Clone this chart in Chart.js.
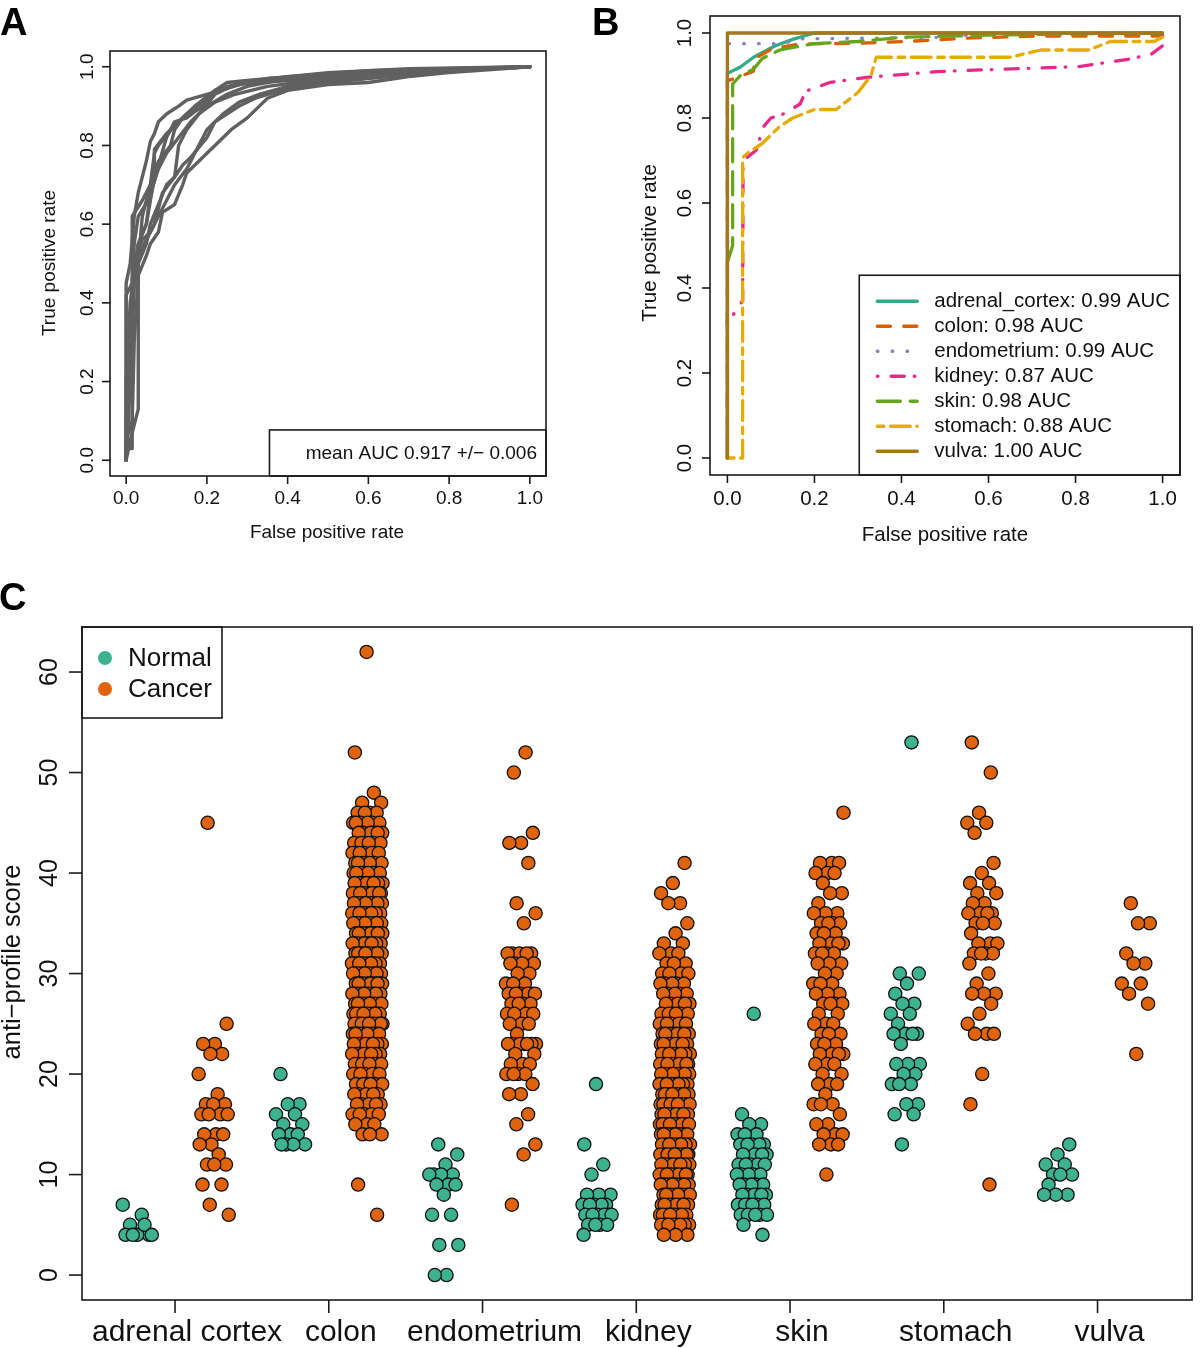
<!DOCTYPE html>
<html>
<head>
<meta charset="utf-8">
<script src="https://cdn.jsdelivr.net/npm/chart.js@4.4.1/dist/chart.umd.min.js"></script>
<style>
  html, body { margin: 0; padding: 0; background: #fff; }
  #wrap { position: relative; width: 1200px; height: 1348px; overflow: hidden; }
  canvas { position: absolute; }
  .tag { position: absolute; font: bold 38px "Liberation Sans", Arial, sans-serif; line-height: 38px; color: #000; }
</style>
</head>
<body>
<div id="wrap">
  <canvas id="rocA" width="600" height="560" style="left:0;top:0"></canvas>
  <canvas id="rocB" width="620" height="560" style="left:580px;top:0"></canvas>
  <canvas id="strip" width="1200" height="788" style="left:0;top:560px"></canvas>
  <div class="tag" style="left:0;top:3px">A</div>
  <div class="tag" style="left:592px;top:3px">B</div>
  <div class="tag" style="left:-1px;top:578px">C</div>
</div>
<script>
// ---------- shared ticks
var rateTicks = [0, 0.2, 0.4, 0.6, 0.8, 1.0];
var rateTickLabels = ['0.0', '0.2', '0.4', '0.6', '0.8', '1.0'];

// ---------- panel A: cross-validation ROC curves, [fpr, tpr]
var fold1 = [[0,0],[0,0.45],[0.01,0.5],[0.02,0.62],[0.03,0.68],[0.04,0.72],[0.05,0.76],[0.06,0.81],[0.07,0.83],[0.08,0.86],[0.1,0.88],[0.13,0.9],[0.15,0.915],[0.2,0.93],[0.25,0.945],[0.3,0.96],[0.4,0.975],[0.5,0.985],[0.7,0.995],[1,1]];
var fold2 = [[0,0],[0,0.42],[0.015,0.45],[0.02,0.55],[0.03,0.62],[0.06,0.67],[0.08,0.75],[0.1,0.82],[0.12,0.86],[0.15,0.87],[0.2,0.91],[0.22,0.94],[0.25,0.96],[0.3,0.965],[0.4,0.975],[0.6,0.99],[1,1]];
var fold3 = [[0,0],[0,0.05],[0.015,0.1],[0.02,0.3],[0.03,0.47],[0.05,0.52],[0.06,0.55],[0.08,0.58],[0.09,0.63],[0.12,0.65],[0.14,0.7],[0.15,0.73],[0.18,0.76],[0.2,0.78],[0.22,0.8],[0.26,0.84],[0.3,0.87],[0.33,0.9],[0.35,0.92],[0.4,0.94],[0.5,0.955],[0.6,0.96],[0.7,0.975],[0.8,0.985],[1,1]];
var fold4 = [[0,0],[0.01,0.05],[0.03,0.13],[0.03,0.5],[0.05,0.55],[0.06,0.6],[0.08,0.65],[0.1,0.7],[0.12,0.72],[0.14,0.75],[0.16,0.77],[0.2,0.82],[0.22,0.86],[0.28,0.9],[0.32,0.92],[0.4,0.945],[0.5,0.96],[0.6,0.97],[0.8,0.99],[1,1]];
var fold5 = [[0,0],[0,0.03],[0.015,0.03],[0.015,0.62],[0.04,0.66],[0.06,0.7],[0.07,0.78],[0.08,0.8],[0.12,0.85],[0.15,0.88],[0.2,0.9],[0.25,0.93],[0.3,0.95],[0.4,0.97],[0.6,0.985],[1,1]];
var fold6 = [[0,0],[0.005,0.1],[0.01,0.35],[0.02,0.48],[0.03,0.55],[0.05,0.6],[0.07,0.72],[0.07,0.79],[0.1,0.83],[0.12,0.85],[0.15,0.88],[0.2,0.92],[0.25,0.95],[0.35,0.97],[0.5,0.98],[0.7,0.99],[1,1]];
var fold7 = [[0,0],[0.01,0.2],[0.02,0.45],[0.03,0.52],[0.05,0.56],[0.07,0.6],[0.09,0.68],[0.12,0.72],[0.13,0.8],[0.15,0.84],[0.18,0.88],[0.22,0.91],[0.27,0.93],[0.35,0.95],[0.5,0.97],[0.7,0.985],[1,1]];
var fold8 = [[0,0],[0,0.2],[0.01,0.4],[0.03,0.55],[0.05,0.6],[0.06,0.68],[0.08,0.74],[0.1,0.78],[0.13,0.82],[0.16,0.86],[0.19,0.89],[0.22,0.93],[0.27,0.955],[0.4,0.965],[0.55,0.975],[0.8,0.99],[1,1]];
var fold9 = [[0,0],[0.005,0.15],[0.02,0.5],[0.04,0.56],[0.06,0.58],[0.08,0.62],[0.1,0.66],[0.12,0.7],[0.15,0.74],[0.17,0.78],[0.2,0.84],[0.24,0.88],[0.28,0.91],[0.33,0.93],[0.4,0.95],[0.55,0.97],[0.7,0.985],[1,1]];
var fold10 = [[0,0],[0,0.1],[0.02,0.45],[0.03,0.5],[0.04,0.62],[0.06,0.7],[0.08,0.76],[0.11,0.8],[0.12,0.84],[0.14,0.87],[0.17,0.9],[0.22,0.94],[0.3,0.96],[0.45,0.975],[0.6,0.985],[1,1]];
var cvFolds = [fold1, fold2, fold3, fold4, fold5, fold6, fold7, fold8, fold9, fold10];
var meanAucText = 'mean AUC 0.917 +/\u2212 0.006';

// ---------- panel B: one ROC curve per tissue, [fpr, tpr]
var tissueKeys = ['adrenal_cortex', 'colon', 'endometrium', 'kidney', 'skin', 'stomach', 'vulva'];
var tissueAuc = ['0.99', '0.98', '0.99', '0.87', '0.98', '0.88', '1.00'];
var rocAdrenal = [[0,0],[0,0.905],[0.03,0.92],[0.06,0.943],[0.11,0.97],[0.15,0.985],[0.2,1],[1,1]];
var rocColon = [[0,0],[0,0.888],[0.02,0.894],[0.06,0.91],[0.063,0.94],[0.105,0.964],[0.167,0.974],[0.3,0.976],[0.41,0.98],[0.55,0.988],[0.72,0.993],[1,0.993]];
var rocEndometrium = [[0,0],[0,0.975],[0.13,0.975],[0.16,0.986],[0.5,0.99],[0.6,1],[1,1]];
var rocKidney = [[0,0],[0,0.33],[0.01,0.332],[0.035,0.37],[0.036,0.7],[0.066,0.724],[0.083,0.78],[0.1,0.8],[0.13,0.81],[0.167,0.833],[0.18,0.863],[0.237,0.884],[0.325,0.896],[0.48,0.909],[0.58,0.913],[0.807,0.921],[0.92,0.938],[0.974,0.95],[1,0.97],[1,1]];
var rocSkin = [[0,0],[0,0.46],[0.012,0.5],[0.012,0.88],[0.03,0.9],[0.06,0.915],[0.08,0.94],[0.12,0.96],[0.2,0.975],[0.3,0.98],[0.4,0.99],[0.6,0.995],[0.8,0.998],[1,1]];
var rocStomach = [[0,0],[0.035,0],[0.035,0.707],[0.05,0.72],[0.08,0.74],[0.12,0.78],[0.15,0.8],[0.2,0.82],[0.25,0.82],[0.3,0.86],[0.33,0.9],[0.342,0.943],[0.65,0.943],[0.7,0.955],[0.72,0.96],[0.83,0.96],[0.88,0.98],[0.98,0.98],[1,0.99]];
var rocVulva = [[0,0],[0,1],[1,1]];
var tissueCurves = [rocAdrenal, rocColon, rocEndometrium, rocKidney, rocSkin, rocStomach, rocVulva];

// styles for panel B (R lty patterns in units of line width)
var curveColors = ['#2fac87', '#d95f02', '#8580c4', '#e7298a', '#66a61e', '#e6ab02', '#a6761d'];
var lw = 3.3;
var curveDash = [[], [4, 4], [0.2, 4.3], [0.2, 4, 4, 3], [7, 3], [2, 2, 6, 2], []];

// ---------- panel C: anti-profile scores
var tissueNames = ['adrenal cortex', 'colon', 'endometrium', 'kidney', 'skin', 'stomach', 'vulva'];
var scoreTicks = [0, 10, 20, 30, 40, 50, 60];
var tissueTicks = [1.5, 3.5, 5.5, 7.5, 9.5, 11.5, 13.5];

var adrenalNormal = [7, 6, 5, 4, 4, 4, 5, 4, 4];
var adrenalCancer = [45, 25, 23, 23, 22, 22, 20, 18, 17, 17, 17, 16, 16, 16, 16, 14, 14, 14, 13, 13, 12, 11, 11, 11, 9, 9, 7, 6];
var colonNormal = [20, 17, 17, 16, 16, 15, 15, 14, 14, 14, 13, 13, 13, 13];
var colonCancerScores = [62, 52, 48, 47, 46, 45, 44, 43, 42, 41, 40, 39, 38, 37, 36, 35, 34, 33, 32, 31, 30, 29, 28, 27, 26, 25, 24, 23, 22, 21, 20, 19, 18, 17, 16, 15, 14, 9, 6];
var colonCancerCounts = [1, 1, 1, 2, 4, 6, 6, 6, 7, 7, 8, 9, 10, 10, 10, 11, 11, 11, 11, 11, 11, 11, 10, 10, 10, 10, 9, 9, 8, 8, 7, 6, 5, 5, 5, 3, 3, 1, 1];
var endometriumNormal = [13, 12, 11, 10, 10, 10, 10, 9, 9, 9, 8, 6, 6, 3, 3, 0, 0];
var endometriumCancer = [52, 50, 44, 43, 43, 41, 37, 36, 35, 32, 32, 32, 32, 32, 31, 31, 31, 31, 30, 30, 29, 29, 29, 28, 28, 28, 28, 28, 28, 27, 27, 27, 27, 26, 26, 26, 26, 25, 25, 25, 24, 23, 23, 23, 23, 23, 23, 23, 22, 22, 21, 21, 21, 20, 20, 20, 20, 19, 18, 18, 16, 15, 13, 12, 7];
var kidneyNormal = [19, 13, 11, 10, 8, 8, 8, 7, 7, 7, 7, 7, 6, 6, 6, 6, 6, 6, 5, 5, 5, 5, 4];
var kidneyCancerScores = [41, 39, 38, 37, 35, 34, 33, 32, 31, 30, 29, 28, 27, 26, 25, 24, 23, 22, 21, 20, 19, 18, 17, 16, 15, 14, 13, 12, 11, 10, 9, 8, 7, 6, 5, 4];
var kidneyCancerCounts = [1, 1, 1, 2, 1, 1, 2, 3, 3, 4, 5, 5, 6, 6, 7, 8, 8, 9, 9, 10, 10, 10, 10, 10, 10, 10, 10, 10, 10, 10, 10, 10, 9, 9, 8, 3];
var skinNormalScores = [26, 16, 15, 14, 13, 12, 11, 10, 9, 8, 7, 6, 5, 4];
var skinNormalCounts = [1, 1, 2, 3, 5, 4, 5, 5, 5, 6, 6, 5, 1, 1];
var skinCancerScores = [46, 41, 40, 39, 38, 37, 36, 35, 34, 33, 32, 31, 30, 29, 28, 27, 26, 25, 24, 23, 22, 21, 20, 19, 18, 17, 16, 15, 14, 13, 10];
var skinCancerCounts = [1, 3, 3, 1, 2, 1, 3, 4, 3, 4, 4, 3, 2, 3, 3, 4, 2, 3, 3, 3, 4, 3, 2, 3, 1, 3, 1, 2, 3, 3, 1];
var stomachNormal = [53, 30, 30, 29, 28, 27, 27, 26, 26, 25, 24, 24, 24, 24, 23, 21, 21, 21, 20, 20, 19, 19, 19, 17, 17, 16, 16, 13];
var stomachCancer = [53, 50, 46, 45, 45, 44, 41, 40, 39, 39, 38, 38, 37, 37, 36, 36, 36, 36, 35, 35, 35, 34, 33, 33, 33, 32, 32, 32, 32, 31, 30, 29, 28, 28, 28, 27, 26, 25, 24, 24, 24, 20, 17, 9];
var vulvaNormal = [13, 12, 11, 11, 10, 10, 10, 9, 8, 8, 8];
var vulvaCancer = [37, 35, 35, 32, 31, 31, 29, 29, 28, 27, 22];

var normalColor = '#3db28e';
var cancerColor = '#df640d';

// ---------- helpers
var FONT = '"Liberation Sans", Arial, Helvetica, sans-serif';
Chart.defaults.font.family = FONT;

function expand(scores, counts) {
    var out = [];
    scores.forEach(function (s, i) {
        for (var k = 0; k < counts[i]; k++) out.push(s);
    });
    return out;
}

// spread points sideways inside their strip (deterministic, low-discrepancy)
function strip(values, pos, seed) {
    return values.map(function (v, k) {
        var u = (k * 0.6180339887 + seed) % 1;
        return { x: pos + (u - 0.5) * 0.4, y: v };
    });
}

function toXY(pairs) {
    return pairs.map(function (p) { return { x: p[0], y: p[1] }; });
}

function seg(ctx, x1, y1, x2, y2) {
    ctx.beginPath();
    ctx.moveTo(x1, y1);
    ctx.lineTo(x2, y2);
    ctx.stroke();
}

// R-style frame: box, outward ticks, rotated y labels, titles
function rFrame(cfg) {
    return {
        id: 'rFrame',
        afterDraw: function (chart) {
            var ctx = chart.ctx, a = chart.chartArea;
            var xs = chart.scales.x, ys = chart.scales.y;
            ctx.save();
            ctx.strokeStyle = '#1a1a1a';
            ctx.fillStyle = '#111';
            ctx.lineWidth = 1.6;
            ctx.strokeRect(a.left, a.top, a.right - a.left, a.bottom - a.top);
            ctx.textAlign = 'center';
            ctx.textBaseline = 'middle';

            ctx.font = cfg.xFont;
            cfg.xTicks.forEach(function (v, i) {
                var px = xs.getPixelForValue(v);
                seg(ctx, px, a.bottom, px, a.bottom + cfg.tickLen);
                ctx.fillText(cfg.xLabels[i], px + (cfg.xShift || 0), a.bottom + cfg.xGap);
            });

            ctx.font = cfg.yFont;
            cfg.yTicks.forEach(function (v, i) {
                var py = ys.getPixelForValue(v);
                seg(ctx, a.left - cfg.tickLen, py, a.left, py);
                ctx.save();
                ctx.translate(a.left - cfg.yGap, py);
                ctx.rotate(-Math.PI / 2);
                ctx.fillText(cfg.yLabels[i], 0, 0);
                ctx.restore();
            });

            ctx.font = cfg.titleFont;
            if (cfg.xTitle) ctx.fillText(cfg.xTitle, cfg.xTitleAt[0], cfg.xTitleAt[1]);
            if (cfg.yTitle) {
                ctx.save();
                ctx.translate(cfg.yTitleAt[0], cfg.yTitleAt[1]);
                ctx.rotate(-Math.PI / 2);
                ctx.fillText(cfg.yTitle, 0, 0);
                ctx.restore();
            }
            ctx.restore();
        }
    };
}

function hiddenScale(min, max) {
    return { type: 'linear', min: min, max: max, display: false };
}

// ---------- panel A
var foldSets = cvFolds.map(function (f) {
    return {
        data: toXY(f),
        showLine: true,
        borderColor: '#606060',
        borderWidth: 3.4,
        pointRadius: 0,
        tension: 0,
        borderJoinStyle: 'round',
        borderCapStyle: 'round'
    };
});

var legendA = {
    id: 'legendA',
    afterDraw: function (chart) {
        var ctx = chart.ctx, a = chart.chartArea;
        var left = chart.scales.x.getPixelForValue(0.355);
        var top = chart.scales.y.getPixelForValue(0.077);
        ctx.save();
        ctx.fillStyle = '#fff';
        ctx.fillRect(left, top, a.right - left, a.bottom - top);
        ctx.strokeStyle = '#1a1a1a';
        ctx.lineWidth = 1.6;
        ctx.strokeRect(left, top, a.right - left, a.bottom - top);
        ctx.fillStyle = '#111';
        ctx.font = '19px ' + FONT;
        ctx.textAlign = 'right';
        ctx.textBaseline = 'middle';
        ctx.fillText(meanAucText, a.right - 9, (top + a.bottom) / 2 + 1);
        ctx.restore();
    }
};

new Chart(document.getElementById('rocA'), {
    type: 'scatter',
    data: { datasets: foldSets },
    options: {
        responsive: false,
        animation: false,
        events: [],
        layout: { padding: { left: 110, top: 51, right: 54, bottom: 84 } },
        scales: { x: hiddenScale(-0.04, 1.04), y: hiddenScale(-0.04, 1.04) },
        plugins: { legend: { display: false }, tooltip: { enabled: false } }
    },
    plugins: [legendA, rFrame({
        xTicks: rateTicks, xLabels: rateTickLabels,
        yTicks: rateTicks, yLabels: rateTickLabels,
        tickLen: 8, xGap: 23, yGap: 22,
        xFont: '19px ' + FONT, yFont: '19px ' + FONT, titleFont: '19px ' + FONT,
        xTitle: 'False positive rate', xTitleAt: [327, 533],
        yTitle: 'True positive rate', yTitleAt: [50, 263]
    })]
});

// ---------- panel B
var tissueSets = tissueCurves.map(function (c, i) {
    return {
        data: toXY(c),
        showLine: true,
        borderColor: curveColors[i],
        borderWidth: lw,
        borderDash: curveDash[i].map(function (d) { return d * lw; }),
        borderCapStyle: 'round',
        borderJoinStyle: 'round',
        pointRadius: 0,
        tension: 0,
        order: tissueCurves.length - i
    };
});

var legendB = {
    id: 'legendB',
    afterDraw: function (chart) {
        var ctx = chart.ctx, a = chart.chartArea;
        var left = chart.scales.x.getPixelForValue(0.303);
        var top = chart.scales.y.getPixelForValue(0.43);
        ctx.save();
        ctx.fillStyle = '#fff';
        ctx.fillRect(left, top, a.right - left, a.bottom - top);
        ctx.strokeStyle = '#1a1a1a';
        ctx.lineWidth = 1.6;
        ctx.strokeRect(left, top, a.right - left, a.bottom - top);
        ctx.font = '20.5px ' + FONT;
        ctx.textAlign = 'left';
        ctx.textBaseline = 'middle';
        tissueKeys.forEach(function (k, i) {
            var y = top + 26 + i * 25;
            ctx.strokeStyle = curveColors[i];
            ctx.lineWidth = lw;
            ctx.lineCap = 'round';
            ctx.setLineDash(curveDash[i].map(function (d) { return d * lw; }));
            seg(ctx, left + 18, y, left + 58, y);
            ctx.setLineDash([]);
            ctx.fillStyle = '#111';
            ctx.fillText(k + ': ' + tissueAuc[i] + ' AUC', left + 75, y);
        });
        ctx.restore();
    }
};

new Chart(document.getElementById('rocB'), {
    type: 'scatter',
    data: { datasets: tissueSets },
    options: {
        responsive: false,
        animation: false,
        events: [],
        layout: { padding: { left: 130, top: 16, right: 20, bottom: 85 } },
        scales: { x: hiddenScale(-0.04, 1.04), y: hiddenScale(-0.04, 1.04) },
        plugins: { legend: { display: false }, tooltip: { enabled: false } }
    },
    plugins: [legendB, rFrame({
        xTicks: rateTicks, xLabels: rateTickLabels,
        yTicks: rateTicks, yLabels: rateTickLabels,
        tickLen: 8, xGap: 24, yGap: 25,
        xFont: '20.5px ' + FONT, yFont: '20.5px ' + FONT, titleFont: '20.5px ' + FONT,
        xTitle: 'False positive rate', xTitleAt: [365, 535],
        yTitle: 'True positive rate', yTitleAt: [70, 243]
    })]
});

// ---------- panel C
var normalGroups = [adrenalNormal, colonNormal, endometriumNormal, kidneyNormal,
    expand(skinNormalScores, skinNormalCounts), stomachNormal, vulvaNormal];
var cancerGroups = [adrenalCancer, expand(colonCancerScores, colonCancerCounts), endometriumCancer,
    expand(kidneyCancerScores, kidneyCancerCounts), expand(skinCancerScores, skinCancerCounts),
    stomachCancer, vulvaCancer];

var normalPoints = [], cancerPoints = [];
normalGroups.forEach(function (g, i) { normalPoints = normalPoints.concat(strip(g, 2 * i + 1, 0.13 * i + 0.05)); });
cancerGroups.forEach(function (g, i) { cancerPoints = cancerPoints.concat(strip(g, 2 * i + 2, 0.17 * i + 0.31)); });

function pointSet(label, pts, color) {
    return {
        label: label,
        data: pts,
        backgroundColor: color,
        borderColor: '#111',
        pointRadius: 6.6,
        pointBorderWidth: 1.3,
        pointHoverRadius: 6.6
    };
}

var legendC = {
    id: 'legendC',
    afterDraw: function (chart) {
        var ctx = chart.ctx, a = chart.chartArea;
        var w = 140, h = 91;
        ctx.save();
        ctx.fillStyle = '#fff';
        ctx.fillRect(a.left, a.top, w, h);
        ctx.strokeStyle = '#1a1a1a';
        ctx.lineWidth = 1.6;
        ctx.strokeRect(a.left, a.top, w, h);
        ctx.font = '26px ' + FONT;
        ctx.textAlign = 'left';
        ctx.textBaseline = 'middle';
        [['Normal', normalColor], ['Cancer', cancerColor]].forEach(function (e, i) {
            var y = a.top + 31 + i * 31;
            ctx.fillStyle = e[1];
            ctx.beginPath();
            ctx.arc(a.left + 23, y, 7, 0, Math.PI * 2);
            ctx.fill();
            ctx.fillStyle = '#111';
            ctx.fillText(e[0], a.left + 46, y + 1);
        });
        ctx.restore();
    }
};

new Chart(document.getElementById('strip'), {
    type: 'scatter',
    data: { datasets: [pointSet('Normal', normalPoints, normalColor), pointSet('Cancer', cancerPoints, cancerColor)] },
    options: {
        responsive: false,
        animation: false,
        events: [],
        layout: { padding: { left: 82, top: 67, right: 1, bottom: 48 } },
        scales: { x: hiddenScale(0.29, 14.73), y: hiddenScale(-2.48, 64.48) },
        plugins: { legend: { display: false }, tooltip: { enabled: false } }
    },
    plugins: [legendC, rFrame({
        xTicks: tissueTicks, xLabels: tissueNames,
        yTicks: scoreTicks, yLabels: scoreTicks.map(String),
        tickLen: 13, xGap: 33, yGap: 32, xShift: 12,
        xFont: '30px ' + FONT, yFont: '25px ' + FONT, titleFont: '25.5px ' + FONT,
        yTitle: 'anti\u2212profile score', yTitleAt: [13, 402]
    })]
});
</script>
</body>
</html>
